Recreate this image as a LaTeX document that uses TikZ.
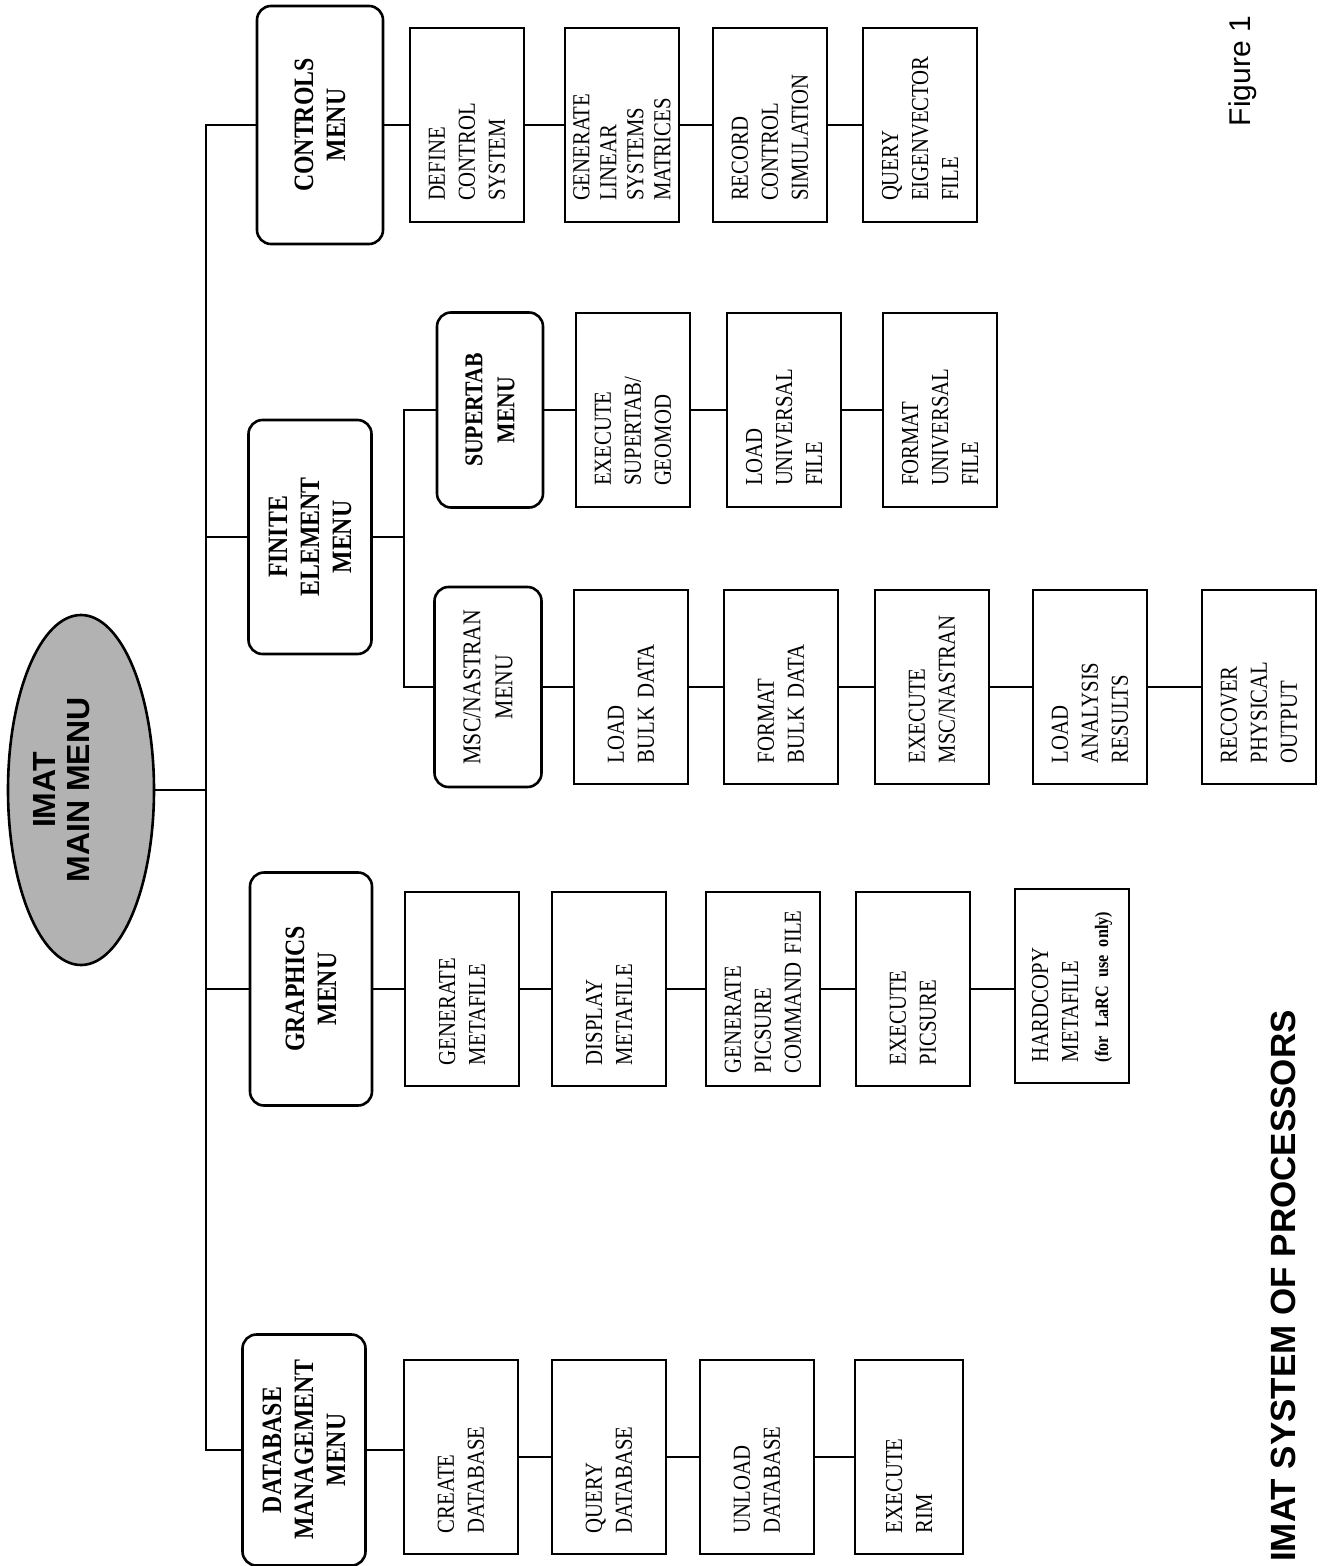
\documentclass[tikz,border=0pt]{standalone}
\usepackage{fontspec}
\setmainfont{Liberation Serif}[FakeStretch=0.85,WordSpace={0.6,0,0}]
\newfontfamily\hsans{Liberation Sans}
\usetikzlibrary{shapes.geometric}
\tikzset{
  box/.style={draw, line width=1.3pt, rotate=90, minimum width=97pt, minimum height=57pt,
    inner sep=0pt, align=left, text width=76pt, font=\fontsize{12.2}{15}\selectfont},
  menu/.style={draw, line width=1.3pt, rounded corners=7pt, rotate=90, inner sep=0pt,
    align=center, font=\fontsize{14}{16}\selectfont\bfseries},
  link/.style={line width=1.3pt},
}
\begin{document}
\begin{tikzpicture}[x=0.5pt,y=-0.5pt]
\useasboundingbox (0,0) rectangle (1324,1566);
\fill[white] (0,0) rectangle (1324,1566);

% main ellipse
\node[ellipse, draw, line width=1.3pt, fill=gray!60, rotate=90, minimum width=175pt, minimum height=73pt, inner sep=0pt] (main) at (81,790) {};
\node[rotate=90, align=center, font=\hsans\fontsize{16}{17}\selectfont\bfseries] (maintext) at (62,790) {IMAT\\MAIN MENU};

% menus
\node[menu, minimum width=119pt, minimum height=63pt] (ctrl) at (320,125) {CONTROLS\\MENU};
\node[menu, minimum width=117pt, minimum height=61.5pt] (fe) at (310,537) {FINITE\\ELEMENT\\MENU};
\node[menu, minimum width=116.5pt, minimum height=61pt] (gr) at (311,989) {GRAPHICS\\MENU};
\node[menu, minimum width=115.5pt, minimum height=61.5pt] (dbm) at (304,1450) {DATABASE\\MANAGEMENT\\MENU};
\node[menu, minimum width=97.5pt, minimum height=53pt, font=\fontsize{12.8}{16}\selectfont\bfseries] (st) at (490,410) {SUPERTAB\\MENU};
\node[menu, minimum width=100pt, minimum height=53.5pt, font=\fontsize{12.8}{16}\selectfont] (mn) at (488,687) {MSC/NASTRAN\\MENU};

% controls row
\node[box] (dcs) at (467,125) {DEFINE\\CONTROL\\SYSTEM};
\node[box, font=\fontsize{12.2}{13.5}\selectfont] (gls) at (622,125) {GENERATE\\LINEAR\\SYSTEMS\\MATRICES};
\node[box] (rcs) at (770,125) {RECORD\\CONTROL\\SIMULATION};
\node[box] (qef) at (920,125) {QUERY\\EIGENVECTOR\\FILE};

% supertab row
\node[box] (esg) at (633,410) {EXECUTE\\SUPERTAB/\\GEOMOD};
\node[box] (luf) at (784,410) {LOAD\\UNIVERSAL\\FILE};
\node[box] (fuf) at (940,410) {FORMAT\\UNIVERSAL\\FILE};

% msc/nastran row
\node[box] (lbd) at (631,687) {LOAD\\BULK DATA};
\node[box] (fbd) at (781,687) {FORMAT\\BULK DATA};
\node[box] (emn) at (932,687) {EXECUTE\\MSC/NASTRAN};
\node[box] (lar) at (1090,687) {LOAD\\ANALYSIS\\RESULTS};
\node[box] (rpo) at (1259,687) {RECOVER\\PHYSICAL\\OUTPUT};

% graphics row
\node[box] (gmf) at (462,989) {GENERATE\\METAFILE};
\node[box] (dmf) at (609,989) {DISPLAY\\METAFILE};
\node[box, text width=84pt] (gpc) at (763,989) {GENERATE\\PICSURE\\COMMAND FILE};
\node[box] (epc) at (913,989) {EXECUTE\\PICSURE};
\node[box] (hmf) at (1072,986) {HARDCOPY\\METAFILE\\{\fontsize{9.5}{15}\selectfont\bfseries (for LaRC use only)}};

% database row
\node[box] (cdb) at (461,1457) {CREATE\\DATABASE};
\node[box] (qdb) at (609,1457) {QUERY\\DATABASE};
\node[box] (udb) at (757,1457) {UNLOAD\\DATABASE};
\node[box, minimum height=54pt] (rim) at (909,1457) {EXECUTE\\RIM};

% main bus
\coordinate (bx) at (206,0);
\draw[link] (ctrl.north) -| (bx |- dbm.north) -- (dbm.north);
\draw[link] (fe.north) -- (fe.north -| bx);
\draw[link] (gr.north) -- (gr.north -| bx);
\draw[link] (main.south) -- (main.south -| bx);

% finite element sub-bus
\coordinate (sx) at (404,0);
\draw[link] (fe.south) -- (fe.south -| sx);
\draw[link] (st.north) -| (sx |- mn.north) -- (mn.north);

% row connectors
\draw[link] (ctrl.south) -- (dcs.north) (dcs.south) -- (gls.north) (gls.south) -- (rcs.north) (rcs.south) -- (qef.north);
\draw[link] (st.south) -- (esg.north) (esg.south) -- (luf.north) (luf.south) -- (fuf.north);
\draw[link] (mn.south) -- (lbd.north) (lbd.south) -- (fbd.north) (fbd.south) -- (emn.north) (emn.south) -- (lar.north) (lar.south) -- (rpo.north);
\draw[link] (gr.south) -- (gmf.north) (gmf.south) -- (dmf.north) (dmf.south) -- (gpc.north) (gpc.south) -- (epc.north) (epc.south) -- (epc.south -| hmf.north);
\draw[link] (dbm.south) -- (dbm.south -| cdb.north) (cdb.south) -- (qdb.north) (qdb.south) -- (udb.north) (udb.south) -- (rim.north);

% captions
\node[rotate=90, font=\hsans\fontsize{15}{18}\selectfont] (fig) at (1243,71) {Figure 1};
\node[rotate=90, font=\hsans\fontsize{17.5}{20}\selectfont\bfseries] (title) at (1283,1286) {IMAT SYSTEM OF PROCESSORS};
\end{tikzpicture}
\end{document}
